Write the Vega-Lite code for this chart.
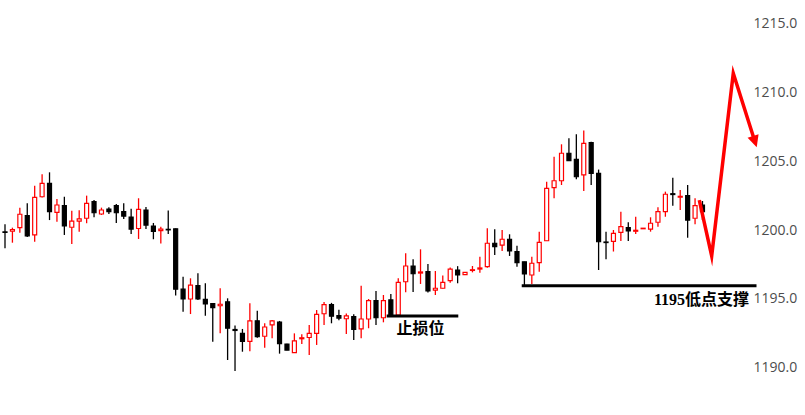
{
  "$schema": "https://vega.github.io/schema/vega-lite/v6.json",
  "width": 750,
  "height": 415,
  "autosize": "none",
  "padding": {"left": 0, "top": 0, "right": 55, "bottom": 0},
  "background": "#ffffff",
  "config": {"view": {"stroke": null}},
  "datasets": {
    "candles": [
      {"i":1,"o":1199.86,"h":1200.41,"l":1198.67,"c":1199.82},
      {"i":2,"o":1199.91,"h":1200.17,"l":1199.08,"c":1200.02},
      {"i":3,"o":1200.17,"h":1201.62,"l":1199.80,"c":1201.14},
      {"i":4,"o":1201.04,"h":1201.93,"l":1199.50,"c":1199.57},
      {"i":5,"o":1199.64,"h":1203.21,"l":1199.15,"c":1202.37},
      {"i":6,"o":1202.41,"h":1204.04,"l":1202.36,"c":1203.38},
      {"i":7,"o":1203.38,"h":1204.18,"l":1200.72,"c":1201.33},
      {"i":8,"o":1201.28,"h":1202.25,"l":1200.60,"c":1201.81},
      {"i":9,"o":1201.76,"h":1202.41,"l":1199.64,"c":1200.29},
      {"i":10,"o":1200.20,"h":1201.40,"l":1198.99,"c":1200.65},
      {"i":11,"o":1200.65,"h":1201.43,"l":1199.88,"c":1200.80},
      {"i":12,"o":1200.85,"h":1202.49,"l":1200.49,"c":1201.93},
      {"i":13,"o":1202.05,"h":1202.17,"l":1200.92,"c":1201.25},
      {"i":14,"o":1201.16,"h":1201.62,"l":1201.09,"c":1201.45},
      {"i":15,"o":1201.52,"h":1201.64,"l":1201.16,"c":1201.33},
      {"i":16,"o":1201.76,"h":1201.88,"l":1200.51,"c":1201.25},
      {"i":17,"o":1201.33,"h":1201.93,"l":1200.80,"c":1201.01},
      {"i":18,"o":1200.94,"h":1201.54,"l":1199.71,"c":1200.07},
      {"i":19,"o":1200.11,"h":1202.30,"l":1199.35,"c":1201.50},
      {"i":20,"o":1201.45,"h":1201.67,"l":1200.07,"c":1200.36},
      {"i":21,"o":1200.29,"h":1200.51,"l":1199.33,"c":1199.89},
      {"i":22,"o":1199.96,"h":1200.24,"l":1199.02,"c":1200.07},
      {"i":23,"o":1200.05,"h":1201.41,"l":1199.71,"c":1200.01},
      {"i":24,"o":1200.09,"h":1200.11,"l":1195.25,"c":1195.71},
      {"i":25,"o":1195.71,"h":1196.62,"l":1194.08,"c":1195.00},
      {"i":26,"o":1195.00,"h":1196.50,"l":1193.91,"c":1196.01},
      {"i":27,"o":1195.98,"h":1196.86,"l":1194.93,"c":1195.00},
      {"i":28,"o":1194.98,"h":1196.14,"l":1193.79,"c":1194.64},
      {"i":29,"o":1194.67,"h":1194.69,"l":1191.91,"c":1194.37},
      {"i":30,"o":1194.51,"h":1195.78,"l":1192.51,"c":1194.62},
      {"i":31,"o":1194.80,"h":1195.05,"l":1190.58,"c":1192.88},
      {"i":32,"o":1192.79,"h":1193.08,"l":1189.78,"c":1192.72},
      {"i":33,"o":1192.51,"h":1192.83,"l":1191.18,"c":1191.92},
      {"i":34,"o":1191.93,"h":1194.69,"l":1191.21,"c":1193.41},
      {"i":35,"o":1193.42,"h":1194.15,"l":1192.20,"c":1192.27},
      {"i":36,"o":1192.30,"h":1193.24,"l":1191.47,"c":1192.97},
      {"i":37,"o":1193.12,"h":1193.48,"l":1192.15,"c":1193.41},
      {"i":38,"o":1193.33,"h":1193.41,"l":1191.04,"c":1191.76},
      {"i":39,"o":1191.74,"h":1191.76,"l":1191.28,"c":1191.30},
      {"i":40,"o":1191.12,"h":1192.51,"l":1191.10,"c":1191.96},
      {"i":41,"o":1192.12,"h":1192.44,"l":1191.74,"c":1192.19},
      {"i":42,"o":1192.21,"h":1193.12,"l":1190.94,"c":1192.51},
      {"i":43,"o":1192.51,"h":1194.20,"l":1191.67,"c":1193.89},
      {"i":44,"o":1193.93,"h":1194.78,"l":1193.12,"c":1194.59},
      {"i":45,"o":1194.59,"h":1194.72,"l":1193.24,"c":1193.75},
      {"i":46,"o":1193.80,"h":1194.22,"l":1193.46,"c":1193.62},
      {"i":47,"o":1193.57,"h":1193.95,"l":1192.46,"c":1193.77},
      {"i":48,"o":1193.72,"h":1193.89,"l":1192.03,"c":1192.80},
      {"i":49,"o":1192.83,"h":1195.96,"l":1192.15,"c":1193.55},
      {"i":50,"o":1193.55,"h":1195.00,"l":1192.88,"c":1194.88},
      {"i":51,"o":1194.88,"h":1195.58,"l":1193.12,"c":1193.64},
      {"i":52,"o":1193.64,"h":1195.29,"l":1193.31,"c":1194.88},
      {"i":53,"o":1194.93,"h":1195.36,"l":1193.75,"c":1193.79},
      {"i":54,"o":1193.84,"h":1196.50,"l":1193.80,"c":1196.21},
      {"i":55,"o":1196.25,"h":1198.31,"l":1195.49,"c":1197.39},
      {"i":56,"o":1197.39,"h":1197.88,"l":1195.51,"c":1196.83},
      {"i":57,"o":1196.88,"h":1198.60,"l":1196.09,"c":1196.96},
      {"i":58,"o":1196.98,"h":1197.54,"l":1195.47,"c":1195.58},
      {"i":59,"o":1195.65,"h":1197.03,"l":1195.29,"c":1195.78},
      {"i":60,"o":1195.78,"h":1196.70,"l":1195.76,"c":1196.21},
      {"i":61,"o":1196.33,"h":1197.28,"l":1196.18,"c":1197.17},
      {"i":62,"o":1197.10,"h":1197.38,"l":1196.14,"c":1196.74},
      {"i":63,"o":1196.76,"h":1196.95,"l":1196.74,"c":1196.93},
      {"i":64,"o":1197.07,"h":1197.39,"l":1196.93,"c":1197.12},
      {"i":65,"o":1197.17,"h":1198.07,"l":1196.91,"c":1197.25},
      {"i":66,"o":1197.34,"h":1200.12,"l":1197.27,"c":1199.04},
      {"i":67,"o":1199.04,"h":1200.05,"l":1198.19,"c":1198.79},
      {"i":68,"o":1198.91,"h":1200.00,"l":1198.48,"c":1199.33},
      {"i":69,"o":1199.33,"h":1199.69,"l":1198.12,"c":1198.48},
      {"i":70,"o":1198.43,"h":1198.86,"l":1197.34,"c":1197.63},
      {"i":71,"o":1197.70,"h":1197.70,"l":1195.98,"c":1196.81},
      {"i":72,"o":1196.74,"h":1198.07,"l":1196.09,"c":1197.59},
      {"i":73,"o":1197.63,"h":1199.88,"l":1196.98,"c":1199.11},
      {"i":74,"o":1199.22,"h":1203.50,"l":1199.20,"c":1203.02},
      {"i":75,"o":1203.07,"h":1205.31,"l":1202.30,"c":1203.57},
      {"i":76,"o":1203.57,"h":1206.21,"l":1203.26,"c":1205.56},
      {"i":77,"o":1205.56,"h":1206.64,"l":1205.00,"c":1205.02},
      {"i":78,"o":1205.12,"h":1206.93,"l":1203.67,"c":1203.86},
      {"i":79,"o":1203.99,"h":1207.21,"l":1202.83,"c":1206.28},
      {"i":80,"o":1206.33,"h":1206.40,"l":1203.26,"c":1204.11},
      {"i":81,"o":1204.11,"h":1204.38,"l":1197.10,"c":1199.15},
      {"i":82,"o":1199.13,"h":1199.88,"l":1197.88,"c":1199.09},
      {"i":83,"o":1199.17,"h":1200.00,"l":1198.44,"c":1199.76},
      {"i":84,"o":1199.83,"h":1201.33,"l":1199.20,"c":1200.24},
      {"i":85,"o":1200.17,"h":1200.56,"l":1199.20,"c":1199.93},
      {"i":86,"o":1199.91,"h":1200.96,"l":1199.71,"c":1199.98},
      {"i":87,"o":1200.09,"h":1200.14,"l":1200.07,"c":1200.13},
      {"i":88,"o":1200.07,"h":1200.92,"l":1199.88,"c":1200.49},
      {"i":89,"o":1200.56,"h":1201.64,"l":1200.24,"c":1201.33},
      {"i":90,"o":1201.33,"h":1202.78,"l":1200.96,"c":1202.59},
      {"i":91,"o":1202.63,"h":1203.79,"l":1201.76,"c":1202.57},
      {"i":92,"o":1202.38,"h":1202.90,"l":1201.45,"c":1202.44},
      {"i":93,"o":1202.49,"h":1203.26,"l":1199.44,"c":1200.72},
      {"i":94,"o":1200.85,"h":1202.30,"l":1200.41,"c":1201.76},
      {"i":95,"o":1201.81,"h":1202.10,"l":1200.72,"c":1201.33}
    ],
    "levels": [
      {"name":"止损位","x1":52.44,"x2":62.09,"p":1193.77,"tx":57.0,"tp":1192.80,"side":"center"},
      {"name":"1195低点支撑","x1":70.64,"x2":102.28,"p":1195.96,"tx":101.27,"tp":1194.95,"side":"right"}
    ],
    "arrow": [
      {"k":1,"x":94.57,"p":1202.17},
      {"k":2,"x":96.24,"p":1198.12},
      {"k":3,"x":99.15,"p":1211.36},
      {"k":4,"x":102.06,"p":1206.41}
    ],
    "tip": [
      {"x":102.31,"p":1205.99}
    ]
  },
  "layer": [
    {
      "data": {"name": "candles"},
      "mark": {"type": "rule", "strokeWidth": 1.3},
      "encoding": {
        "x": {"field": "i", "type": "quantitative", "scale": {"domain": [0.326, 101.404], "nice": false, "zero": false, "padding": 0}, "axis": null},
        "y": {"field": "l", "type": "quantitative", "scale": {"domain": [1186.594, 1216.667], "nice": false, "zero": false, "padding": 0},
              "axis": {"orient": "right", "values": [1190, 1195, 1200, 1205, 1210, 1215], "format": ".1f", "domain": false, "ticks": false, "grid": false, "title": null, "labelPadding": 3, "labelFont": "Open Sans", "labelFontSize": 14, "labelColor": "#4d4d4d", "labelAlign": "left", "labelBaseline": "middle"}},
        "y2": {"field": "h"},
        "color": {"condition": {"test": "datum.c >= datum.o", "value": "#ff0000"}, "value": "#000000"}
      }
    },
    {
      "data": {"name": "candles"},
      "mark": {"type": "bar", "size": 4, "strokeWidth": 1.2},
      "encoding": {
        "x": {"field": "i", "type": "quantitative", "scale": {"domain": [0.326, 101.404], "nice": false, "zero": false, "padding": 0}, "axis": null},
        "y": {"field": "o", "type": "quantitative", "scale": {"domain": [1186.594, 1216.667], "nice": false, "zero": false, "padding": 0},
              "axis": {"orient": "right", "values": [1190, 1195, 1200, 1205, 1210, 1215], "format": ".1f", "domain": false, "ticks": false, "grid": false, "title": null, "labelPadding": 3, "labelFont": "Open Sans", "labelFontSize": 14, "labelColor": "#4d4d4d", "labelAlign": "left", "labelBaseline": "middle"}},
        "y2": {"field": "c"},
        "fill": {"condition": {"test": "datum.c >= datum.o", "value": "#ffffff"}, "value": "#000000"},
        "stroke": {"condition": {"test": "datum.c >= datum.o", "value": "#ff0000"}, "value": "#000000"}
      }
    },
    {
      "data": {"name": "levels"},
      "mark": {"type": "rule", "strokeWidth": 3, "color": "#000000"},
      "encoding": {
        "x": {"field": "x1", "type": "quantitative", "scale": {"domain": [0.326, 101.404], "nice": false, "zero": false, "padding": 0}, "axis": null},
        "x2": {"field": "x2"},
        "y": {"field": "p", "type": "quantitative", "scale": {"domain": [1186.594, 1216.667], "nice": false, "zero": false, "padding": 0},
              "axis": {"orient": "right", "values": [1190, 1195, 1200, 1205, 1210, 1215], "format": ".1f", "domain": false, "ticks": false, "grid": false, "title": null, "labelPadding": 3, "labelFont": "Open Sans", "labelFontSize": 14, "labelColor": "#4d4d4d", "labelAlign": "left", "labelBaseline": "middle"}}
      }
    },
    {
      "data": {"name": "levels"},
      "transform": [{"filter": "datum.side == 'center'"}],
      "mark": {"type": "text", "font": "Liberation Serif, Noto Sans CJK SC", "fontSize": 16, "fontWeight": "bold", "color": "#000000", "baseline": "middle", "align": "center"},
      "encoding": {
        "x": {"field": "tx", "type": "quantitative", "scale": {"domain": [0.326, 101.404], "nice": false, "zero": false, "padding": 0}, "axis": null},
        "y": {"field": "tp", "type": "quantitative", "scale": {"domain": [1186.594, 1216.667], "nice": false, "zero": false, "padding": 0},
              "axis": {"orient": "right", "values": [1190, 1195, 1200, 1205, 1210, 1215], "format": ".1f", "domain": false, "ticks": false, "grid": false, "title": null, "labelPadding": 3, "labelFont": "Open Sans", "labelFontSize": 14, "labelColor": "#4d4d4d", "labelAlign": "left", "labelBaseline": "middle"}},
        "text": {"field": "name"}
      }
    },
    {
      "data": {"name": "levels"},
      "transform": [{"filter": "datum.side == 'right'"}],
      "mark": {"type": "text", "font": "Liberation Serif, Noto Sans CJK SC", "fontSize": 16, "fontWeight": "bold", "color": "#000000", "baseline": "middle", "align": "right"},
      "encoding": {
        "x": {"field": "tx", "type": "quantitative", "scale": {"domain": [0.326, 101.404], "nice": false, "zero": false, "padding": 0}, "axis": null},
        "y": {"field": "tp", "type": "quantitative", "scale": {"domain": [1186.594, 1216.667], "nice": false, "zero": false, "padding": 0},
              "axis": {"orient": "right", "values": [1190, 1195, 1200, 1205, 1210, 1215], "format": ".1f", "domain": false, "ticks": false, "grid": false, "title": null, "labelPadding": 3, "labelFont": "Open Sans", "labelFontSize": 14, "labelColor": "#4d4d4d", "labelAlign": "left", "labelBaseline": "middle"}},
        "text": {"field": "name"}
      }
    },
    {
      "data": {"name": "arrow"},
      "mark": {"type": "line", "color": "#ff0000", "strokeWidth": 3.5, "strokeJoin": "miter", "strokeMiterLimit": 10},
      "encoding": {
        "x": {"field": "x", "type": "quantitative", "scale": {"domain": [0.326, 101.404], "nice": false, "zero": false, "padding": 0}, "axis": null},
        "y": {"field": "p", "type": "quantitative", "scale": {"domain": [1186.594, 1216.667], "nice": false, "zero": false, "padding": 0},
              "axis": {"orient": "right", "values": [1190, 1195, 1200, 1205, 1210, 1215], "format": ".1f", "domain": false, "ticks": false, "grid": false, "title": null, "labelPadding": 3, "labelFont": "Open Sans", "labelFontSize": 14, "labelColor": "#4d4d4d", "labelAlign": "left", "labelBaseline": "middle"}},
        "order": {"field": "k", "type": "quantitative"}
      }
    },
    {
      "data": {"name": "tip"},
      "mark": {"type": "point", "shape": "M-0.48,-1 L0.48,-1 L0,0 Z", "size": 576, "angle": 342.3, "filled": true, "color": "#ff0000", "opacity": 1, "strokeWidth": 0},
      "encoding": {
        "x": {"field": "x", "type": "quantitative", "scale": {"domain": [0.326, 101.404], "nice": false, "zero": false, "padding": 0}, "axis": null},
        "y": {"field": "p", "type": "quantitative", "scale": {"domain": [1186.594, 1216.667], "nice": false, "zero": false, "padding": 0},
              "axis": {"orient": "right", "values": [1190, 1195, 1200, 1205, 1210, 1215], "format": ".1f", "domain": false, "ticks": false, "grid": false, "title": null, "labelPadding": 3, "labelFont": "Open Sans", "labelFontSize": 14, "labelColor": "#4d4d4d", "labelAlign": "left", "labelBaseline": "middle"}}
      }
    }
  ]
}
